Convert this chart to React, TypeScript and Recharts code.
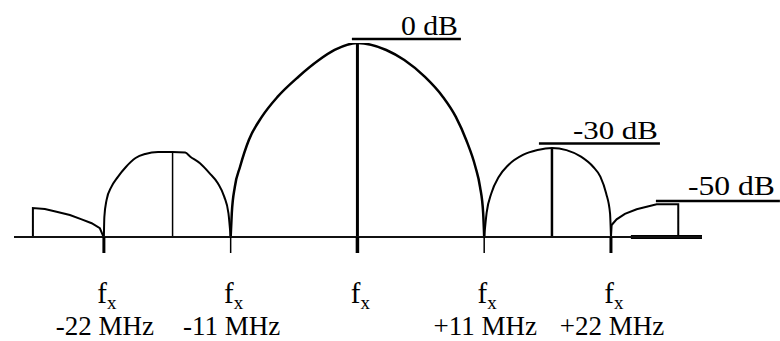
import { ComposedChart, Line, XAxis, YAxis, ReferenceLine } from "recharts"

// frequency offset (MHz) and relative amplitude (peak = 1)
const mainLobe = [
  { f: -11, a: 0 }, { f: -10.9, a: 0.124 }, { f: -10.64, a: 0.258 }, { f: -10.19, a: 0.361 },
  { f: -9.42, a: 0.5 }, { f: -8.3, a: 0.619 }, { f: -6.94, a: 0.722 }, { f: -5.14, a: 0.825 },
  { f: -3.34, a: 0.912 }, { f: -1.98, a: 0.964 }, { f: 0, a: 1 }, { f: 2.5, a: 0.964 },
  { f: 4.07, a: 0.912 }, { f: 5.86, a: 0.825 }, { f: 7.42, a: 0.722 }, { f: 8.54, a: 0.619 },
  { f: 9.44, a: 0.5 }, { f: 10.24, a: 0.361 }, { f: 10.64, a: 0.258 }, { f: 10.91, a: 0.124 },
  { f: 11, a: 0 },
]

const leftSideLobe = [
  { f: -22, a: 0 }, { f: -21.96, a: 0.103 }, { f: -21.77, a: 0.19 }, { f: -21.35, a: 0.258 },
  { f: -20.8, a: 0.309 }, { f: -20.09, a: 0.361 }, { f: -19.25, a: 0.407 }, { f: -18.41, a: 0.428 },
  { f: -17.3, a: 0.438 }, { f: -16.04, a: 0.438 }, { f: -14.95, a: 0.435 }, { f: -14.5, a: 0.414 },
  { f: -13.66, a: 0.38 }, { f: -12.82, a: 0.328 }, { f: -12.11, a: 0.277 }, { f: -11.56, a: 0.208 },
  { f: -11.19, a: 0.122 }, { f: -11, a: 0 },
]

const rightSideLobe = [
  { f: 11, a: 0 }, { f: 11.21, a: 0.124 }, { f: 11.63, a: 0.227 }, { f: 12.26, a: 0.309 },
  { f: 13.1, a: 0.371 }, { f: 14.36, a: 0.423 }, { f: 15.62, a: 0.448 }, { f: 16.88, a: 0.459 },
  { f: 18.14, a: 0.448 }, { f: 19.4, a: 0.414 }, { f: 20.45, a: 0.362 }, { f: 21.08, a: 0.311 },
  { f: 21.58, a: 0.225 }, { f: 21.92, a: 0.122 }, { f: 22, a: 0 },
]

const leftOuterLobe = [
  { f: -28.16, a: 0 }, { f: -28.16, a: 0.149 }, { f: -27.12, a: 0.144 }, { f: -26.11, a: 0.13 },
  { f: -24.95, a: 0.113 }, { f: -23.93, a: 0.091 }, { f: -23.06, a: 0.071 }, { f: -22.35, a: 0.045 },
  { f: -22.06, a: 0.005 }, { f: -22, a: 0 },
]

const rightOuterLobe = [
  { f: 22, a: 0 }, { f: 22.06, a: 0.062 }, { f: 22.49, a: 0.091 }, { f: 23.21, a: 0.119 },
  { f: 24.23, a: 0.143 }, { f: 25.1, a: 0.156 }, { f: 25.97, a: 0.169 }, { f: 27.84, a: 0.169 },
  { f: 27.84, a: 0 },
]

// lobe peaks with their marker lines
const peakFreqs = [0, -16.04, 16.88]
const peakLevels = [1, 0.438, 0.459]

const freqTicks = [-22, -11, 0, 11, 22]
const tickOffsets = ["-22 MHz", "-11 MHz", "", "+11 MHz", "+22 MHz"]

// level annotations: text and the span of the underline
const levelTexts = ["0 dB", "-30 dB", "-50 dB"]
const levelHeights = [1.0206, 0.482, 0.186]
const levelSpans = [[-0.48, 8.98], [15.75, 26.25], [25.9, 36.66]]

const TICK_STROKE = [3, 1.5, 3.5, 1.5, 3]
const PEAK_STROKE = [3, 1.5, 2.5]
const LABEL_STYLE = [
  { size: 28, width: 57, rise: 4, inset: 3 },
  { size: 26, width: 85, rise: 4, inset: 2 },
  { size: 27, width: 87, rise: 6, inset: 5 },
]

function LevelLabel(props: any) {
  const { viewBox, text, size, width, rise, inset } = props
  if (!viewBox) return null
  const right = viewBox.x + viewBox.width - inset
  return (
    <text
      x={right}
      y={viewBox.y - rise}
      textAnchor="end"
      fontFamily="Liberation Serif"
      fontSize={size}
      textLength={width}
      lengthAdjust="spacingAndGlyphs"
    >
      {text}
    </text>
  )
}

function FreqTick(props: any) {
  const { x, y, payload } = props
  const i = freqTicks.indexOf(payload.value)
  return (
    <g>
      <line x1={x} x2={x} y1={y} y2={y + 16} stroke="#000" strokeWidth={TICK_STROKE[i]} />
      <text x={x + 3} y={y + 66} textAnchor="middle" fontFamily="Liberation Serif" fontSize={29}>
        f<tspan fontSize={19} dy={6}>x</tspan>
      </text>
      {tickOffsets[i] && (
        <text x={x + 1} y={y + 98} textAnchor="middle" fontFamily="Liberation Serif" fontSize={27}>
          {tickOffsets[i]}
        </text>
      )}
    </g>
  )
}

export default function App() {
  const lobes = [
    { data: leftOuterLobe, w: 2, type: "linear" as const },
    { data: leftSideLobe, w: 2, type: "monotone" as const },
    { data: mainLobe, w: 2.5, type: "monotone" as const },
    { data: rightSideLobe, w: 2, type: "monotone" as const },
    { data: rightOuterLobe, w: 2, type: "linear" as const },
  ]

  return (
    <div
      style={{
        position: "absolute",
        left: 0,
        top: 0,
        width: 780,
        height: 341,
        background: "#fff",
        fontFamily: "Liberation Serif",
      }}
    >
      <ComposedChart width={780} height={341} margin={{ top: 43, right: 78, left: 14, bottom: 0 }}>
        <XAxis
          dataKey="f"
          type="number"
          domain={[-29.8, 29.9]}
          allowDataOverflow
          ticks={freqTicks}
          interval={0}
          tickSize={0}
          tickMargin={0}
          tickLine={false}
          height={104}
          axisLine={{ stroke: "#111", strokeWidth: 2 }}
          tick={<FreqTick />}
        />
        <YAxis type="number" domain={[0, 1]} hide allowDataOverflow />

        {/* heavier stub of the baseline at the right end */}
        <ReferenceLine
          segment={[{ x: 23.73, y: 0 }, { x: 29.9, y: 0 }]}
          stroke="#000"
          strokeWidth={4}
          ifOverflow="visible"
        />

        {lobes.map((l, i) => (
          <Line
            key={i}
            data={l.data}
            dataKey="a"
            type={l.type}
            stroke="#000"
            strokeWidth={l.w}
            dot={false}
            activeDot={false}
            isAnimationActive={false}
          />
        ))}

        {peakFreqs.map((f, i) => (
          <ReferenceLine
            key={"p" + i}
            segment={[{ x: f, y: 0 }, { x: f, y: peakLevels[i] }]}
            stroke="#000"
            strokeWidth={PEAK_STROKE[i]}
            ifOverflow="visible"
          />
        ))}

        {levelTexts.map((t, i) => (
          <ReferenceLine
            key={"l" + i}
            segment={[
              { x: levelSpans[i][0], y: levelHeights[i] },
              { x: levelSpans[i][1], y: levelHeights[i] },
            ]}
            stroke="#000"
            strokeWidth={2.5}
            ifOverflow="visible"
            label={<LevelLabel text={t} {...LABEL_STYLE[i]} />}
          />
        ))}
      </ComposedChart>
    </div>
  )
}
